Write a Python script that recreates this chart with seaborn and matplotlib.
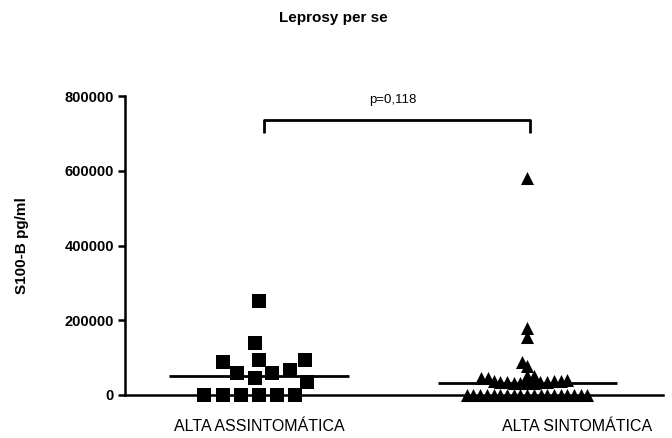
import numpy as np
import pandas as pd
import matplotlib
matplotlib.use("Agg")
import matplotlib.pyplot as plt
from matplotlib.transforms import ScaledTranslation
import seaborn as sns

# ---- data ----
categories = ["ALTA ASSINTOMÁTICA", "ALTA SINTOMÁTICA"]
assintomatica = [252000, 139000, 94000, 88000, 94000, 67000, 59000, 59000,
                 45000, 35000, 0, 0, 0, 0, 0, 0]
sintomatica = [580000, 179000, 155000, 88000, 78000, 51000, 51000, 45000, 45000,
               39000, 38000, 37000, 37000, 36000, 35000,
               34000, 34000, 33000, 33000, 32000, 32000,
               0, 0, 0, 0, 0, 0, 0, 0, 0, 0, 0, 0, 0, 0, 0, 0, 0, 0, 0]
y_ticks = [0, 200000, 400000, 600000, 800000]
y_ticklabels = ["0", "200000", "400000", "600000", "800000"]
title = "Leprosy per se"
ylabel = "S100-B pg/ml"
p_label = "p=0,118"
bracket_y = [701000, 736000]
p_y = 772000

df = pd.DataFrame({
    "group": [categories[0]] * len(assintomatica) + [categories[1]] * len(sintomatica),
    "value": assintomatica + sintomatica,
})

sns.set_theme(style="ticks")
plt.rcParams["font.family"] = ["Liberation Sans", "DejaVu Sans"]

W, H = 672, 438
fig = plt.figure(figsize=(W / 100, H / 100), dpi=100)
ax = fig.add_axes([125 / W, 1 - 395 / H, (663 - 125) / W, 299 / H])

n0 = len(ax.collections)
sns.swarmplot(data=df[df.group == categories[0]], x="group", y="value", order=categories,
              marker="s", size=12.5, color="black", linewidth=0, ax=ax)
sns.swarmplot(data=df[df.group == categories[1]], x="group", y="value", order=categories,
              marker="^", size=4.6, color="black", linewidth=0, ax=ax)
n2 = len(ax.collections)

ax.set_xlim(-0.5, 1.507)
ax.set_ylim(0, 800000)

# medians
for i, vals in enumerate([assintomatica, sintomatica]):
    ax.hlines(np.median(vals), i - 0.334, i + 0.334, color="black", lw=2, zorder=3)

# significance bracket
ax.plot([0.02, 0.02, 1.01, 1.01], [bracket_y[0], bracket_y[1], bracket_y[1], bracket_y[0]],
        color="black", lw=2, clip_on=False, solid_capstyle="butt")
ax.text(0.5, p_y, p_label, ha="center", va="bottom", fontsize=9.5, color="black")

# axes styling
sns.despine(ax=ax)
for s in ["left", "bottom"]:
    ax.spines[s].set_linewidth(1.8)
    ax.spines[s].set_color("black")
ax.set_yticks(y_ticks)
ax.set_yticklabels(y_ticklabels, fontsize=10.5, fontweight="bold")
ax.set_xticks([0, 1])
ax.set_xticklabels(categories, fontsize=11.5, fontweight="normal")
ax.tick_params(axis="y", length=5, width=1.8, colors="black", pad=3)
ax.tick_params(axis="x", length=4, width=1.5, colors="black", pad=13)
ax.set_xlabel("")
ax.set_ylabel(ylabel, fontsize=11, fontweight="bold", color="black")
ax.yaxis.set_label_coords(-0.178, 0.5)

# second category label sits to the right of its column in the reference
lab2 = ax.get_xticklabels()[1]
lab2.set_transform(lab2.get_transform() + ScaledTranslation(50 / 100, 0, fig.dpi_scale_trans))

fig.text(333 / W, 1 - 18 / H, title, ha="center", va="center", fontsize=11,
         fontweight="bold", color="black")

# let seaborn compute the swarm layout, then freeze it and set the drawn marker size
fig.canvas.draw()
for c in ax.collections[n0:n2]:
    if "draw" in c.__dict__:
        del c.draw
    c.set_clip_on(False)
    c.set_sizes([9.4 ** 2])
    c.set_zorder(4)

fig.savefig("out.png", dpi=100)
